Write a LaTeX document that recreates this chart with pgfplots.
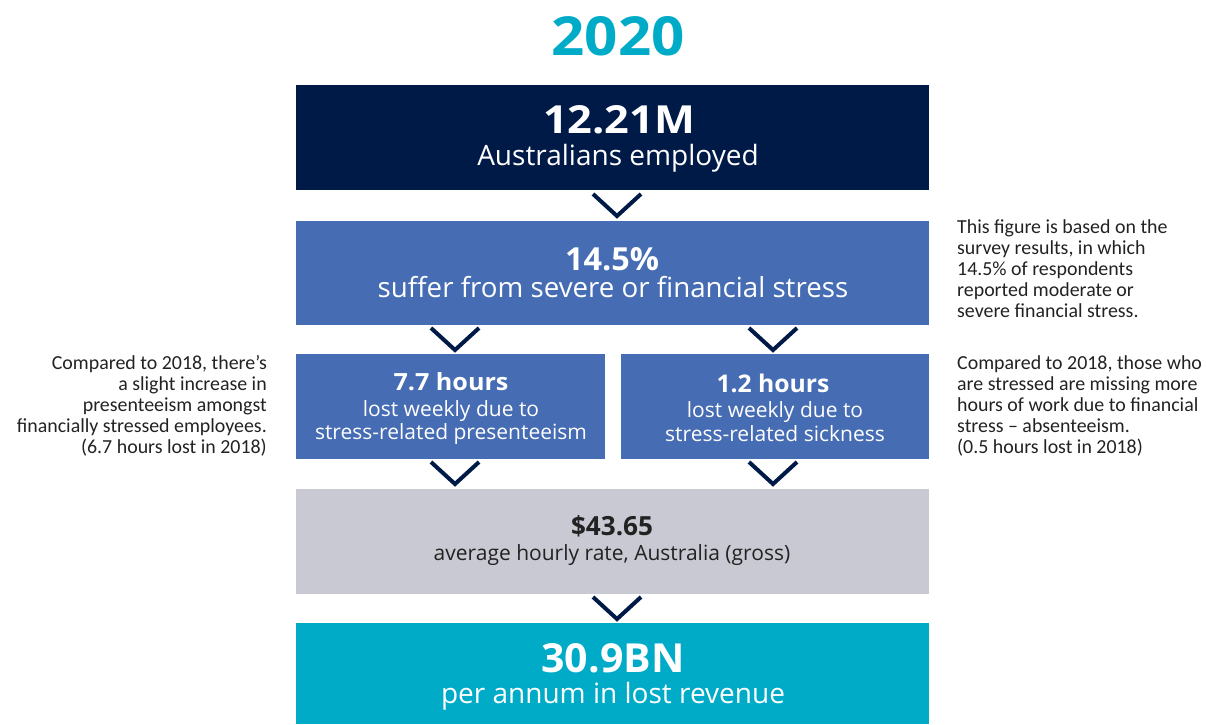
\documentclass[border=0pt]{standalone}
\usepackage{pgfplots}
\pgfplotsset{compat=1.18}
\usepackage{graphicx}
\usepackage{fontspec}
\setmainfont{Open Sans}
\newfontfamily\os{Open Sans}
\newfontfamily\carl{Carlito}
\definecolor{navy}{HTML}{001A48}
\definecolor{bluebox}{HTML}{466CB4}
\definecolor{graybox}{HTML}{C9C9D3}
\definecolor{teal}{HTML}{00ABC8}
\definecolor{notegray}{HTML}{222222}
\newcommand{\bx}[3]{\resizebox{#1pt}{#2pt}{\os\bfseries\fontsize{30}{30}\selectfont #3}}
\begin{document}
\begin{tikzpicture}
\begin{axis}[width=1207pt,height=724pt,scale only axis,
  xmin=0,xmax=1207,ymin=0,ymax=724,y dir=reverse,
  hide axis, clip=false]
% boxes
\addplot[fill=navy,draw=none] coordinates {(296,85)(929,85)(929,190)(296,190)} --cycle;
\addplot[fill=bluebox,draw=none] coordinates {(296,221)(929,221)(929,325)(296,325)} --cycle;
\addplot[fill=bluebox,draw=none] coordinates {(296,354)(605,354)(605,459)(296,459)} --cycle;
\addplot[fill=bluebox,draw=none] coordinates {(621,354)(929,354)(929,459)(621,459)} --cycle;
\addplot[fill=graybox,draw=none] coordinates {(296,489)(929,489)(929,594)(296,594)} --cycle;
\addplot[fill=teal,draw=none] coordinates {(296,623)(929,623)(929,724)(296,724)} --cycle;
% chevrons
\addplot[navy,line width=4pt] coordinates {(593,194)(617,216)(641,194)};
\addplot[navy,line width=4pt] coordinates {(431,328)(455,350)(479,328)};
\addplot[navy,line width=4pt] coordinates {(749,328)(773,350)(797,328)};
\addplot[navy,line width=4pt] coordinates {(431,462)(455,484)(479,462)};
\addplot[navy,line width=4pt] coordinates {(749,462)(773,484)(797,462)};
\addplot[navy,line width=4pt] coordinates {(593,597)(617,619)(641,597)};
\begin{scope}[every node/.style={anchor=base,inner sep=0pt}]
% title
\node[text=teal] at (axis cs:618,55) {\bx{133}{39}{2020}};
% box 1
\node[text=white] at (axis cs:619,133) {\bx{152}{28}{12.21M}};
\node[text=white,font={\os\fontsize{28}{28}\selectfont}] at (axis cs:618,165) {Australians employed};
% box 2
\node[text=white] at (axis cs:612,270) {\bx{94}{23}{14.5\%}};
\node[text=white,font={\os\fontsize{27.7}{28}\selectfont}] at (axis cs:613,297) {suffer from severe or financial stress};
% box 3a
\node[text=white] at (axis cs:451,390) {\bx{115}{18}{7.7 hours}};
\node[text=white,font={\os\fontsize{21}{21}\selectfont}] at (axis cs:451,416) {lost weekly due to};
\node[text=white,font={\os\fontsize{21}{21}\selectfont}] at (axis cs:451,439) {stress-related presenteeism};
% box 3b
\node[text=white] at (axis cs:773,392) {\bx{113}{18.5}{1.2 hours}};
\node[text=white,font={\os\fontsize{21}{21}\selectfont}] at (axis cs:775,417) {lost weekly due to};
\node[text=white,font={\os\fontsize{21}{21}\selectfont}] at (axis cs:775,441) {stress-related sickness};
% box 4
\node[text=notegray] at (axis cs:612,535) {\bx{82}{20}{\$43.65}};
\node[text=notegray,font={\os\fontsize{21}{21}\selectfont}] at (axis cs:612,560) {average hourly rate, Australia (gross)};
% box 5
\node[text=white] at (axis cs:613,672) {\bx{143}{29}{30.9BN}};
\node[text=white,font={\os\fontsize{28}{28}\selectfont}] at (axis cs:613,703) {per annum in lost revenue};
\end{scope}
% left note
\begin{scope}[every node/.style={anchor=base east,inner sep=0pt,text=notegray,font={\carl\fontsize{19.9}{19.9}\selectfont}}]
\node at (axis cs:267,369) {Compared to 2018, there’s};
\node at (axis cs:267,390) {a slight increase in};
\node at (axis cs:267,411) {presenteeism amongst};
\node at (axis cs:267,432) {financially stressed employees.};
\node at (axis cs:267,453) {(6.7 hours lost in 2018)};
\end{scope}
% right notes
\begin{scope}[every node/.style={anchor=base west,inner sep=0pt,text=notegray,font={\carl\fontsize{19.9}{19.9}\selectfont}}]
\node at (axis cs:957,233) {This figure is based on the};
\node at (axis cs:957,254) {survey results, in which};
\node at (axis cs:957,275) {14.5\% of respondents};
\node at (axis cs:957,296) {reported moderate or};
\node at (axis cs:957,317) {severe financial stress.};
\node at (axis cs:957,369) {Compared to 2018, those who};
\node at (axis cs:957,390) {are stressed are missing more};
\node at (axis cs:957,411) {hours of work due to financial};
\node at (axis cs:957,432) {stress – absenteeism.};
\node at (axis cs:957,453) {(0.5 hours lost in 2018)};
\end{scope}
\end{axis}
\pgfresetboundingbox
\path (current axis.south west) rectangle (current axis.north east);
\end{tikzpicture}
\end{document}
